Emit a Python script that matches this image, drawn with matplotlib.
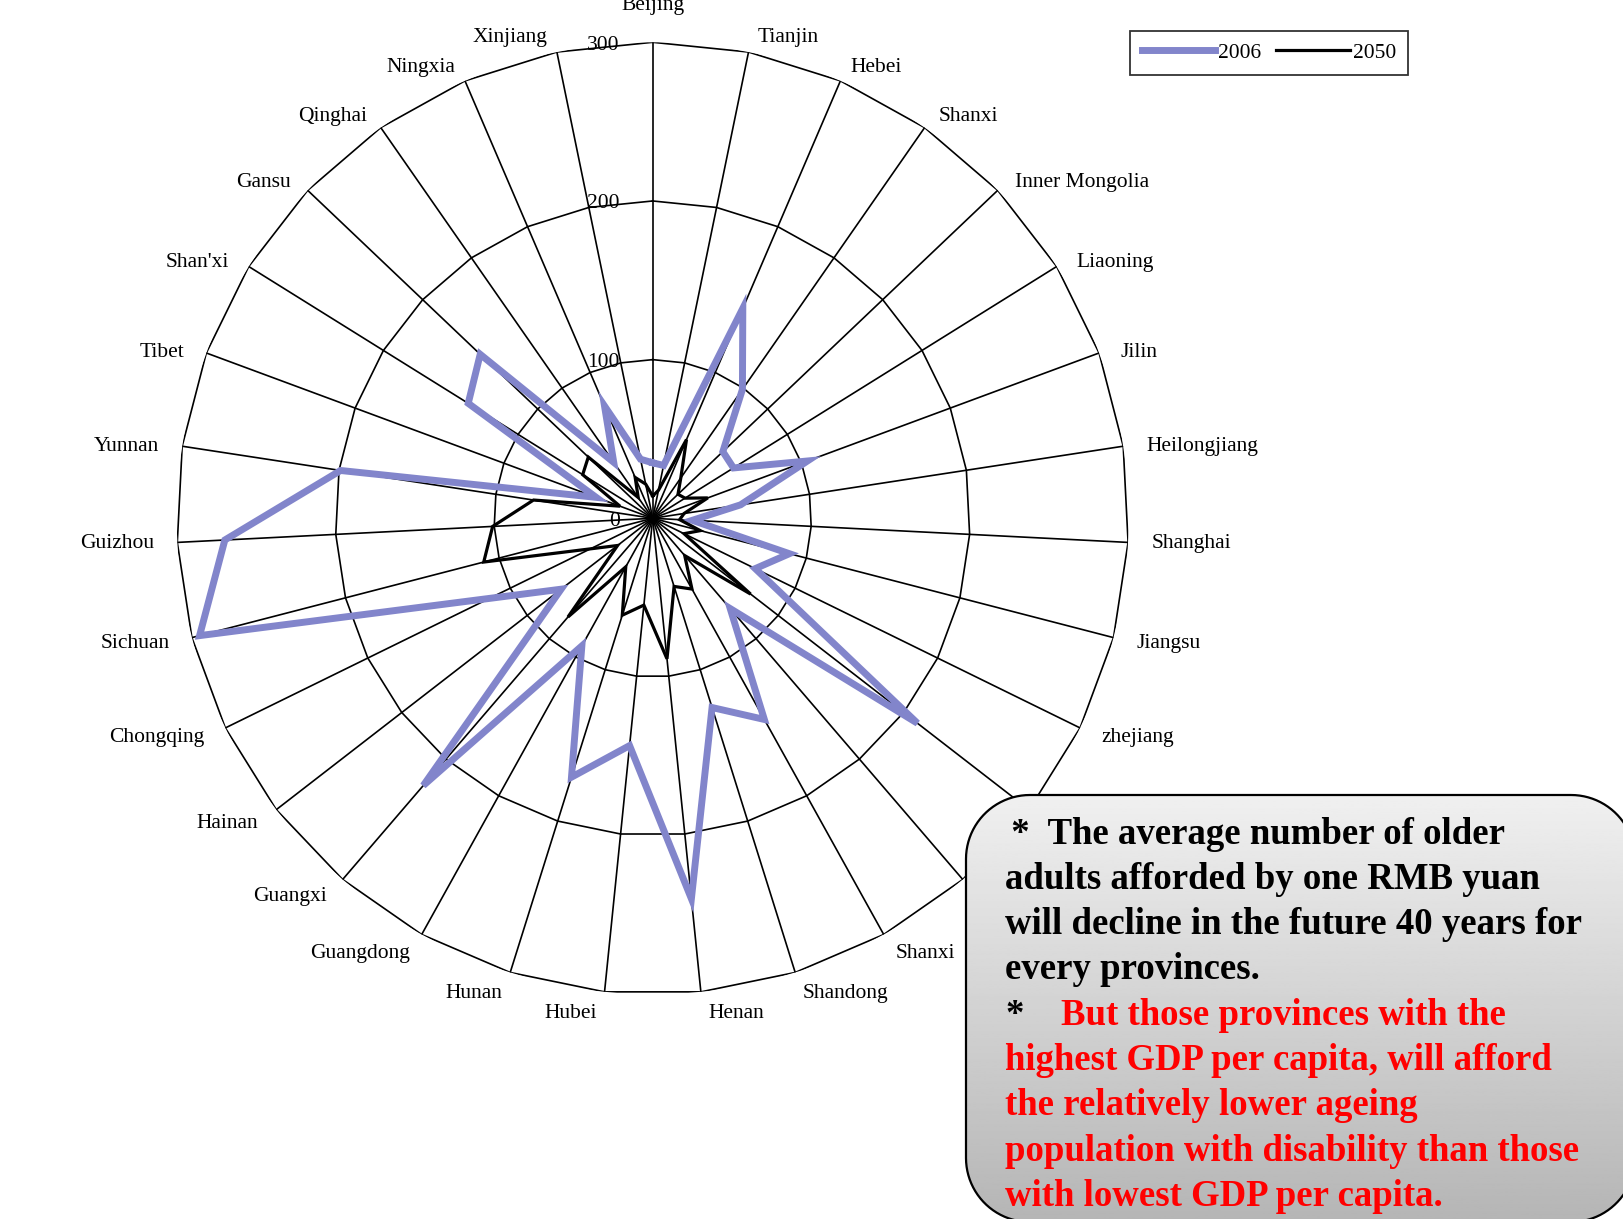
import numpy as np
import pandas as pd
import matplotlib
matplotlib.use("Agg")
import matplotlib.pyplot as plt
from matplotlib.patches import Polygon

plt.rcParams['font.family'] = ['Liberation Serif', 'DejaVu Serif']

provinces = ["Beijing", "Tianjin", "Hebei", "Shanxi", "Inner Mongolia", "Liaoning", "Jilin",
             "Heilongjiang", "Shanghai", "Jiangsu", "zhejiang", "Anhui", "Fujian", "Shanxi",
             "Shandong", "Henan", "Hubei", "Hunan", "Guangdong", "Guangxi", "Hainan",
             "Chongqing", "Sichuan", "Guizhou", "Yunnan", "Tibet", "Shan'xi", "Gansu",
             "Qinghai", "Ningxia", "Xinjiang"]
# Chongqing has no value -> the line just joins Sichuan and Hainan
v2006 = [35, 34, 144, 99, 61, 60, 104, 56, 25, 89, 72, 211, 75, 145, 125, 241, 144, 171,
         92, 222, 73, np.nan, 295, 270, 199, 38, 137, 150, 43, 77, 38]
v2050 = [14, 18, 54, 31, 22, 24, 37, 20, 17, 31, 22, 78, 31, 51, 45, 89, 55, 64, 35, 82,
         28, np.nan, 110, 101, 76, 22, 52, 56, 16, 28, 22]
rings = [100, 200, 300]

note_black = [" *  The average number of older", "adults afforded by one RMB yuan",
              "will decline in the future 40 years for", "every provinces."]
note_red = ["But those provinces with the", "highest GDP per capita, will afford",
            "the relatively lower ageing", "population with disability than those",
            "with lowest GDP per capita."]

W, H = 1623, 1219
fig = plt.figure(figsize=(W / 100, H / 100), dpi=100)
cx, cy, R = 652.7, 518.3, 476
ax = fig.add_axes([(cx - R) / W, 1 - (cy + R) / H, 2 * R / W, 2 * R / H], projection='polar')
ax.set_theta_zero_location('N')
ax.set_theta_direction(-1)
ax.set_ylim(0, 300)
ax.grid(False)
ax.set_xticks([]); ax.set_yticks([])
ax.spines['polar'].set_visible(False)
ax.patch.set_alpha(0)

n = len(provinces)
theta = np.arange(n) * 2 * np.pi / n
for r in rings:
    ax.plot(np.append(theta, theta[0]), [r] * (n + 1), color='black', lw=1.2, zorder=1)
for t in theta:
    ax.plot([t, t], [0, 300], color='black', lw=1.2, zorder=1)

df = pd.DataFrame({"theta": theta, "y2006": v2006, "y2050": v2050})
for col, color, lw in [("y2006", "#8285CB", 5.0), ("y2050", "black", 2.3)]:
    d = df.dropna(subset=[col])
    tt = np.append(d["theta"].values, d["theta"].values[0])
    yy = np.append(d[col].values, d[col].values[0])
    ax.plot(tt, yy, color=color, lw=lw, solid_joinstyle='miter', zorder=3,
            label=col[1:])

fs = 15.5
for t, name in zip(theta, provinces):
    s, c = np.sin(t), np.cos(t)
    if abs(s) < 0.05:
        ax.annotate(name, xy=(t, 323), ha='center', va='center', fontsize=fs,
                    annotation_clip=False)
        continue
    dx = 5 if abs(s) < 0.25 else 1
    dy = -7.5 * min(1.0, c / 0.3) if c > 0 else 0
    ax.annotate(name, xy=(t, 314), xytext=(dx if s > 0 else -dx, dy),
                textcoords='offset pixels', ha='left' if s > 0 else 'right',
                va='center', fontsize=fs, annotation_clip=False)

for r in [0] + rings:
    ax.annotate(str(r), xy=(0, r), xytext=(-33, -3), textcoords='offset pixels',
                ha='right', va='center', fontsize=fs, annotation_clip=False)

leg = fig.legend(loc='upper left', bbox_to_anchor=(1130 / W, 1 - 31 / H), ncol=2,
                 fontsize=fs, handlelength=3.4, handletextpad=0.15, columnspacing=0.7,
                 borderpad=0.55, borderaxespad=0, fancybox=False, frameon=True)
leg.get_frame().set_edgecolor('black')
leg.get_frame().set_linewidth(1.3)

# callout box in pixel space (rounded rectangle running off the page)
ov = fig.add_axes([0, 0, 1, 1], zorder=5)
ov.axis('off')
ov.patch.set_alpha(0)
bx0, by0, bx1, by1, rr = 966, 795, 1635, 1222, 64
a = np.linspace(0, np.pi / 2, 24)
corners = [(bx1 - rr, by0 + rr, -np.pi / 2 + a), (bx1 - rr, by1 - rr, a),
           (bx0 + rr, by1 - rr, np.pi / 2 + a), (bx0 + rr, by0 + rr, np.pi + a)]
pts = np.vstack([np.column_stack([xc + rr * np.cos(ang), yc + rr * np.sin(ang)])
                 for xc, yc, ang in corners])
box = Polygon(pts, closed=True, facecolor='none', edgecolor='black', lw=1.6, zorder=3)
ov.add_patch(box)
grad = np.linspace(0.94, 0.71, 256).reshape(-1, 1)
im = ov.imshow(grad, cmap='gray', vmin=0, vmax=1, extent=(bx0, bx1, by1, by0),
               aspect='auto', zorder=2)
im.set_clip_path(box)
ov.set_xlim(0, W); ov.set_ylim(H, 0)

fs2 = 26.5
y0, dy = 834, 45.3
for i, line in enumerate(note_black):
    x = 1005 if i else 1002
    ov.text(x, y0 + i * dy, line, color='black', fontsize=fs2, fontweight='bold',
            ha='left', va='center', zorder=4)
y5 = y0 + 4 * dy
ov.text(1005, y5, "*", color='black', fontsize=fs2, fontweight='bold', ha='left', va='center', zorder=4)
for i, line in enumerate(note_red):
    x = 1061 if i == 0 else 1005
    ov.text(x, y5 + i * dy, line, color='red', fontsize=fs2, fontweight='bold',
            ha='left', va='center', zorder=4)

fig.savefig("out.png", dpi=100)
